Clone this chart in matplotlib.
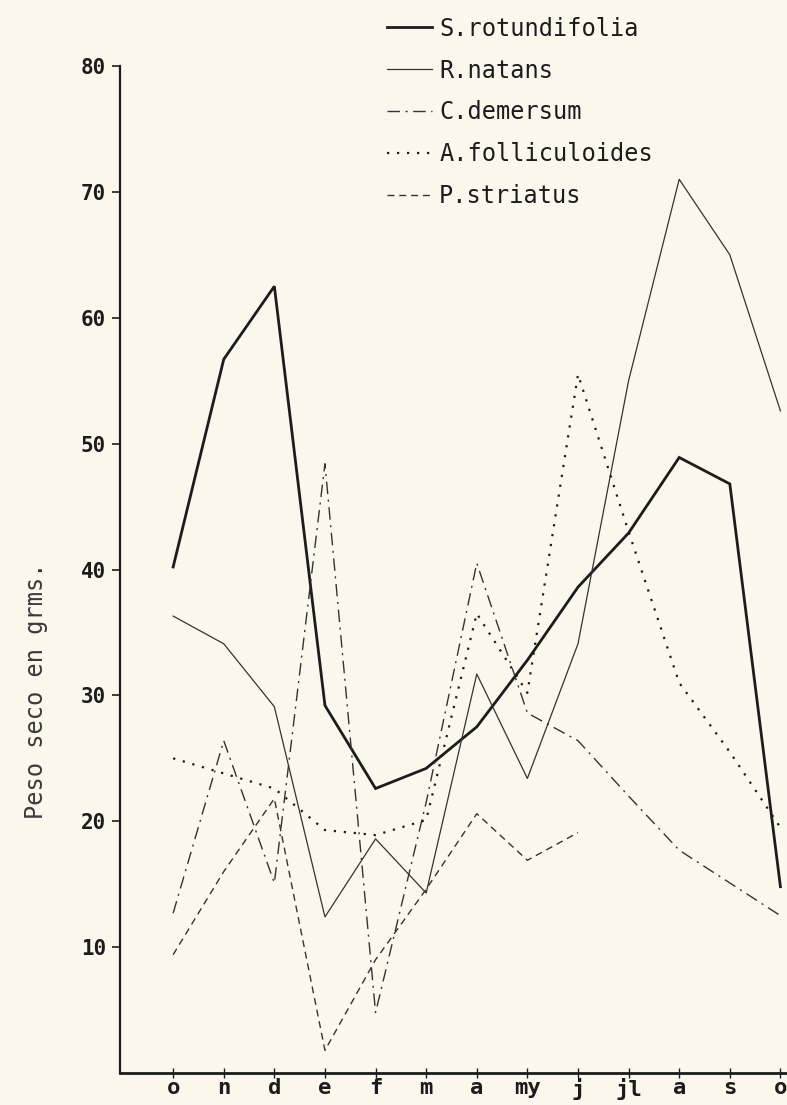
import matplotlib.pyplot as plt
import numpy as np

# meses de octubre a octubre
meses = ["o", "n", "d", "e", "f", "m", "a", "my", "j", "jl", "a", "s", "o"]

s_rotundifolia = [40.2, 56.7, 62.5, 29.2, 22.6, 24.2, 27.5, 32.8, 38.6, 42.9, 48.9, 46.8, 14.8]
r_natans = [36.3, 34.1, 29.1, 12.4, 18.6, 14.3, 31.7, 23.4, 34.1, 55.0, 71.0, 65.0, 52.6]
c_demersum = [12.7, 26.4, 15.1, 48.4, 4.8, 21.5, 40.5, 28.6, 26.4, 22.0, 17.7, 15.1, 12.5]
a_folliculoides = [25.0, 23.8, 22.6, 19.3, 18.9, 20.1, 36.5, 30.2, 55.5, 43.0, 31.0, 25.5, 19.5]
p_striatus = [9.4, 16.0, 21.8, 1.8, 9.0, 14.6, 20.6, 16.9, 19.1, None, None, None, None]

fondo = "#fbf7ec"
tinta = "#1c1c1c"

fig = plt.figure(figsize=(7.87, 11.05), dpi=100, facecolor=fondo)
ax = fig.add_axes([120 / 787, 32 / 1105, 667 / 787, 1007 / 1105])
ax.set_facecolor(fondo)

x = np.arange(len(meses))
p = np.array([np.nan if v is None else v for v in p_striatus], dtype=float)

ax.plot(x, s_rotundifolia, color=tinta, lw=2.0, label="S.rotundifolia", solid_joinstyle="miter")
ax.plot(x, r_natans, color="#333333", lw=0.9, label="R.natans")
ax.plot(x, c_demersum, color="#333333", lw=1.0, ls=(0, (9, 4, 1.5, 4)), label="C.demersum")
ax.plot(x, a_folliculoides, color=tinta, lw=1.6, ls=(0, (1, 3.5)), label="A.folliculoides")
ax.plot(x, p, color="#333333", lw=1.0, ls=(0, (5, 3.5)), label="P.striatus")

ax.set_xlim(-1.05, 12.13)
ax.set_ylim(0, 80)

for lado in ["top", "right"]:
    ax.spines[lado].set_visible(False)
ax.spines["left"].set_linewidth(1.6)
ax.spines["bottom"].set_linewidth(2.0)
ax.spines["left"].set_color(tinta)
ax.spines["bottom"].set_color(tinta)

ax.set_yticks(range(10, 81, 10))
ax.set_yticklabels([str(v) for v in range(10, 81, 10)],
                   family="DejaVu Sans Mono", fontsize=15, fontweight="bold", color=tinta)
ax.tick_params(axis="y", direction="out", length=6, width=1.2, pad=4, colors=tinta)

ax.set_xticks(x)
ax.set_xticklabels(meses, family="DejaVu Sans Mono", fontsize=16, fontweight="bold", color=tinta)
ax.tick_params(axis="x", direction="inout", length=7, width=1.0, pad=0, colors=tinta)

ax.set_ylabel("Peso seco en grms.", family="DejaVu Sans Mono", fontsize=17, color="#3a3a3a")
ax.yaxis.set_label_coords(-0.108, 0.38)

leg = ax.legend(loc="upper left", bbox_to_anchor=(0.492, 0.985), bbox_transform=fig.transFigure,
                frameon=False, prop={"family": "DejaVu Sans Mono", "size": 17},
                handlelength=1.9, handletextpad=0.3, labelspacing=0.76,
                borderpad=0, borderaxespad=0)
for t in leg.get_texts():
    t.set_color(tinta)

fig.savefig("out.png", dpi=100, facecolor=fondo)
